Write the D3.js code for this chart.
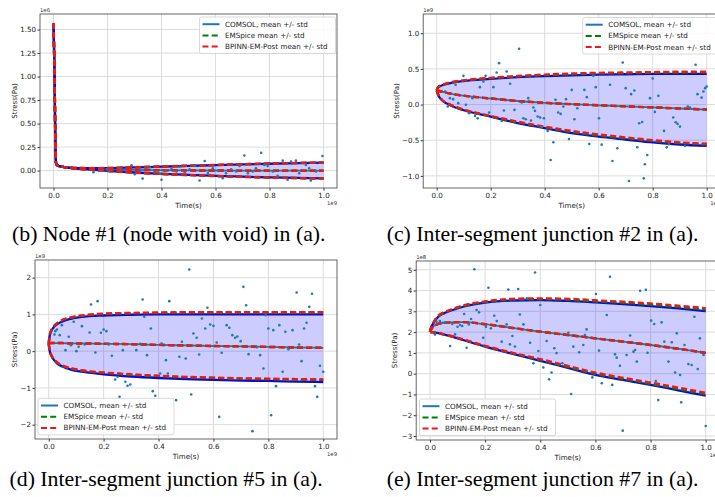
<!DOCTYPE html>
<html>
<head>
<meta charset="utf-8">
<script src="https://cdn.jsdelivr.net/npm/d3@7"></script>
<style>
body{margin:0;background:#fff}
svg{display:block}
.tick text{font-family:"DejaVu Sans";font-size:7.1px;fill:#222}
.textos{font-family:"DejaVu Sans";font-size:7.1px;fill:#222}
.leyenda{font-family:"DejaVu Sans";font-size:7.2px;fill:#222}
.exponente{font-family:"DejaVu Sans";font-size:5.3px;fill:#333}
.pie{font-family:"Liberation Serif";font-size:21.8px;fill:#000}
</style>
</head>
<body>
<script>
var anchoSvg = 715,
    altoSvg = 497;

// ---- datos (tiempo en 1e9 s, tension en 1e6 / 1e9 / 1e9 / 1e8 Pa) ----
var nombresSeries = ['COMSOL, mean +/- std', 'EMSpice mean +/- std', 'BPINN-EM-Post mean +/- std'];
var ticksX = [0, 0.2, 0.4, 0.6, 0.8, 1.0];

// (b) nodo #1
var tiempos_b = [0, 0.002, 0.004, 0.006, 0.008, 0.01, 0.015, 0.03, 0.06, 0.1, 0.15, 0.2, 0.3, 0.4, 0.5, 0.6, 0.7, 0.8, 0.9, 1.0];
var comsolMedia_b = [1.57, 1.30, 1.00, 0.50, 0.15, 0.07, 0.055, 0.042, 0.030, 0.022, 0.016, 0.012, 0.007, 0.004, 0.002, 0.001, 0.000, 0.000, -0.001, -0.001];
var comsolSup_b = [1.57, 1.30, 1.00, 0.50, 0.15, 0.07, 0.055, 0.042, 0.031, 0.026, 0.025, 0.026, 0.034, 0.042, 0.050, 0.058, 0.066, 0.073, 0.079, 0.084];
var comsolInf_b = [1.57, 1.30, 1.00, 0.50, 0.15, 0.07, 0.055, 0.042, 0.029, 0.018, 0.008, -0.002, -0.020, -0.034, -0.046, -0.056, -0.065, -0.072, -0.078, -0.083];
var emspiceMedia_b = [1.57, 1.30, 1.00, 0.50, 0.15, 0.07, 0.055, 0.042, 0.030, 0.022, 0.016, 0.012, 0.007, 0.004, 0.002, 0.001, 0.000, 0.000, -0.001, -0.001];
var emspiceSup_b = [1.57, 1.30, 1.00, 0.50, 0.15, 0.07, 0.055, 0.042, 0.031, 0.027, 0.026, 0.027, 0.035, 0.043, 0.051, 0.059, 0.067, 0.074, 0.080, 0.085];
var emspiceInf_b = [1.57, 1.30, 1.00, 0.50, 0.15, 0.07, 0.055, 0.042, 0.029, 0.017, 0.007, -0.003, -0.021, -0.035, -0.047, -0.057, -0.066, -0.073, -0.079, -0.084];
var bpinnMedia_b = [1.57, 1.30, 1.00, 0.50, 0.15, 0.07, 0.055, 0.042, 0.030, 0.022, 0.016, 0.012, 0.007, 0.004, 0.002, 0.001, 0.000, 0.000, -0.001, -0.001];
var bpinnSup_b = [1.57, 1.30, 1.00, 0.50, 0.15, 0.07, 0.055, 0.042, 0.031, 0.027, 0.026, 0.028, 0.036, 0.044, 0.052, 0.060, 0.068, 0.075, 0.081, 0.086];
var bpinnInf_b = [1.57, 1.30, 1.00, 0.50, 0.15, 0.07, 0.055, 0.042, 0.029, 0.017, 0.007, -0.004, -0.022, -0.036, -0.048, -0.058, -0.067, -0.074, -0.080, -0.085];
var puntos_b = [[0.148,-0.017],[0.178,0.0],[0.197,0.015],[0.209,-0.01],[0.246,0.02],[0.265,0.003],[0.289,0.057],[0.301,-0.039],
  [0.320,0.003],[0.330,-0.085],[0.344,0.025],[0.357,0.035],[0.375,-0.01],[0.396,-0.035],[0.400,-0.098],[0.418,0.003],
  [0.437,0.02],[0.455,-0.01],[0.467,0.042],[0.486,-0.021],[0.504,0.015],[0.523,0.05],[0.541,-0.105],[0.560,0.102],
  [0.572,-0.028],[0.590,0.025],[0.609,0.003],[0.627,-0.081],[0.639,-0.028],[0.658,0.015],[0.677,-0.01],[0.689,0.05],
  [0.707,0.16],[0.720,-0.028],[0.738,-0.01],[0.750,0.025],[0.769,0.19],[0.781,0.06],[0.793,0.05],[0.812,-0.01],
  [0.830,-0.056],[0.849,0.106],[0.867,-0.098],[0.880,0.095],[0.898,0.106],[0.910,-0.028],[0.935,0.06],[0.947,0.025],
  [0.953,-0.105],[0.972,-0.01],[0.996,0.155]];

// (c) union #2
var tiempos_c = [0, 0.005, 0.02, 0.05, 0.1, 0.2, 0.3, 0.4, 0.5, 0.6, 0.7, 0.8, 0.9, 1.0];
var comsolMedia_c = [0.20, 0.195, 0.18, 0.155, 0.125, 0.085, 0.05, 0.025, 0.005, -0.01, -0.025, -0.04, -0.055, -0.07];
var comsolSup_c = [0.20, 0.24, 0.27, 0.30, 0.33, 0.36, 0.385, 0.40, 0.41, 0.42, 0.425, 0.43, 0.43, 0.43];
var comsolInf_c = [0.20, 0.14, 0.06, -0.01, -0.08, -0.17, -0.26, -0.33, -0.40, -0.45, -0.49, -0.53, -0.56, -0.58];
var emspiceMedia_c = [0.20, 0.195, 0.18, 0.155, 0.125, 0.085, 0.05, 0.025, 0.005, -0.01, -0.025, -0.04, -0.055, -0.07];
var emspiceSup_c = [0.20, 0.243, 0.273, 0.305, 0.335, 0.37, 0.395, 0.413, 0.425, 0.435, 0.44, 0.447, 0.45, 0.452];
var emspiceInf_c = [0.20, 0.143, 0.063, -0.005, -0.075, -0.165, -0.25, -0.32, -0.385, -0.435, -0.475, -0.51, -0.54, -0.56];
var bpinnMedia_c = [0.20, 0.195, 0.18, 0.155, 0.125, 0.085, 0.05, 0.025, 0.005, -0.01, -0.025, -0.04, -0.055, -0.07];
var bpinnSup_c = [0.20, 0.245, 0.275, 0.31, 0.34, 0.375, 0.40, 0.42, 0.435, 0.445, 0.45, 0.455, 0.46, 0.46];
var bpinnInf_c = [0.20, 0.145, 0.065, 0.0, -0.07, -0.16, -0.24, -0.31, -0.37, -0.42, -0.46, -0.50, -0.53, -0.55];
var puntos_c = [[0.031,0.183],[0.041,-0.028],[0.049,0.09],[0.061,0.076],[0.070,0.277],[0.080,0.02],[0.099,0.403],[0.108,-0.004],
  [0.120,-0.121],[0.132,0.09],[0.142,-0.159],[0.152,-0.191],[0.160,0.244],[0.173,0.323],[0.181,0.403],[0.194,-0.112],
  [0.210,0.244],[0.222,0.45],[0.231,0.581],[0.241,-0.229],[0.249,-0.084],[0.259,0.464],[0.272,0.291],[0.288,-0.075],
  [0.305,0.782],[0.315,0.028],[0.321,-0.191],[0.330,-0.205],[0.339,0.09],[0.349,-0.225],[0.358,-0.042],[0.364,-0.088],
  [0.374,-0.168],[0.383,-0.182],[0.389,-0.313],[0.397,-0.191],[0.411,-0.369],[0.422,-0.777],[0.432,-0.528],[0.440,0.066],
  [0.450,-0.112],[0.459,-0.131],[0.469,-0.028],[0.479,0.076],[0.490,-0.482],[0.500,0.206],[0.510,-0.205],[0.521,-0.051],
  [0.547,0.206],[0.556,0.104],[0.565,-0.552],[0.580,0.403],[0.589,0.244],[0.601,-0.191],[0.611,-0.562],[0.642,0.277],
  [0.651,-0.792],[0.669,-0.613],[0.689,0.59],[0.700,0.23],[0.712,-1.072],[0.720,0.146],[0.732,0.197],[0.743,-0.598],
  [0.750,-0.262],[0.761,-0.244],[0.767,-1.035],[0.771,-0.838],[0.780,-0.707],[0.790,0.09],[0.800,0.365],[0.808,-0.103],
  [0.821,0.122],[0.842,-0.369],[0.852,-0.6],[0.860,-0.557],[0.876,-0.182],[0.885,-0.248],[0.892,-0.271],[0.901,-0.309],
  [0.920,-0.58],[0.930,-0.028],[0.938,-0.042],[0.959,0.558],[0.966,0.146],[0.981,0.098],[0.988,0.183],[0.994,0.23],[1.0,0.253]];

// (d) union #5
var tiempos_d = [0, 0.003, 0.008, 0.015, 0.03, 0.05, 0.08, 0.12, 0.2, 0.3, 0.4, 0.5, 0.6, 0.7, 0.8, 0.9, 1.0];
var comsolMedia_d = [0.20, 0.21, 0.22, 0.22, 0.22, 0.22, 0.21, 0.21, 0.20, 0.19, 0.17, 0.155, 0.14, 0.13, 0.115, 0.10, 0.09];
var comsolSup_d = [0.20, 0.40, 0.52, 0.62, 0.73, 0.81, 0.88, 0.93, 0.97, 0.99, 1.0, 1.0, 1.0, 1.0, 1.0, 1.0, 1.0];
var comsolInf_d = [0.20, 0.02, -0.10, -0.20, -0.33, -0.42, -0.50, -0.56, -0.63, -0.69, -0.73, -0.76, -0.78, -0.80, -0.81, -0.83, -0.84];
var emspiceMedia_d = [0.20, 0.21, 0.22, 0.22, 0.22, 0.22, 0.21, 0.21, 0.20, 0.19, 0.17, 0.155, 0.14, 0.13, 0.115, 0.10, 0.09];
var emspiceSup_d = [0.20, 0.41, 0.54, 0.64, 0.75, 0.84, 0.91, 0.96, 1.01, 1.03, 1.04, 1.05, 1.05, 1.05, 1.05, 1.05, 1.05];
var emspiceInf_d = [0.20, 0.025, -0.09, -0.19, -0.31, -0.40, -0.47, -0.53, -0.59, -0.64, -0.68, -0.71, -0.73, -0.75, -0.76, -0.77, -0.78];
var bpinnMedia_d = [0.20, 0.21, 0.22, 0.22, 0.22, 0.22, 0.21, 0.21, 0.20, 0.19, 0.17, 0.155, 0.14, 0.13, 0.115, 0.10, 0.09];
var bpinnSup_d = [0.20, 0.42, 0.55, 0.65, 0.76, 0.85, 0.92, 0.97, 1.02, 1.04, 1.05, 1.06, 1.06, 1.06, 1.06, 1.06, 1.06];
var bpinnInf_d = [0.20, 0.03, -0.08, -0.18, -0.30, -0.39, -0.46, -0.52, -0.58, -0.63, -0.67, -0.70, -0.72, -0.74, -0.75, -0.76, -0.77];
var puntos_d = [[0.021,0.454],[0.024,0.544],[0.030,0.590],[0.040,0.435],[0.048,0.707],[0.061,0.027],[0.073,0.39],[0.081,0.163],
  [0.091,0.798],[0.101,0.0],[0.109,0.118],[0.121,0.68],[0.131,0.181],[0.149,0.508],[0.154,1.27],[0.170,-0.036],
  [0.178,1.36],[0.190,0.499],[0.200,0.59],[0.210,0.544],[0.218,0.181],[0.230,-0.127],[0.242,-0.771],[0.251,-0.698],
  [0.258,-1.243],[0.270,0.027],[0.279,-0.834],[0.287,-0.943],[0.297,-0.907],[0.319,0.027],[0.333,0.2],[0.342,1.406],
  [0.348,0.934],[0.358,-0.109],[0.372,0.617],[0.379,-1.088],[0.388,-1.215],[0.406,-0.608],[0.411,0.209],[0.427,-0.245],
  [0.434,-0.608],[0.439,1.36],[0.464,-1.333],[0.476,-0.154],[0.485,0.254],[0.499,-0.2],[0.512,2.22],[0.519,-1.179],
  [0.527,0.481],[0.539,0.363],[0.548,-0.091],[0.558,0.889],[0.570,0.617],[0.578,1.18],[0.588,0.726],[0.600,0.689],
  [0.612,0.236],[0.621,-1.787],[0.630,-0.045],[0.648,0.707],[0.658,0.635],[0.669,0.435],[0.679,0.363],[0.687,0.399],
  [0.699,0.272],[0.709,1.75],[0.719,1.25],[0.728,-0.082],[0.742,-2.177],[0.758,0.109],[0.770,-0.109],[0.782,-0.472],
  [0.790,0.98],[0.800,0.617],[0.810,-1.742],[0.818,0.571],[0.828,-0.952],[0.840,0.707],[0.852,-0.562],[0.862,0.526],
  [0.873,0.054],[0.888,0.571],[0.903,1.596],[0.912,0.181],[0.921,-0.272],[0.930,0.617],[0.939,0.771],[0.949,1.206],
  [0.959,1.56],[0.970,-0.952],[0.978,-1.243],[0.988,-0.399],[1.0,-0.562]];

// (e) union #7
var tiempos_e = [0, 0.005, 0.012, 0.03, 0.05, 0.08, 0.12, 0.2, 0.3, 0.4, 0.5, 0.6, 0.7, 0.8, 0.9, 1.0];
var comsolMedia_e = [2.0, 2.15, 2.27, 2.39, 2.44, 2.47, 2.48, 2.38, 2.20, 2.02, 1.86, 1.70, 1.54, 1.38, 1.20, 1.00];
var comsolSup_e = [2.0, 2.25, 2.42, 2.74, 2.90, 3.05, 3.22, 3.42, 3.52, 3.54, 3.50, 3.43, 3.35, 3.25, 3.14, 3.01];
var comsolInf_e = [2.0, 2.0, 1.99, 1.95, 1.88, 1.78, 1.62, 1.30, 0.95, 0.62, 0.28, -0.06, -0.30, -0.54, -0.80, -1.06];
var emspiceMedia_e = [2.0, 2.15, 2.27, 2.39, 2.44, 2.47, 2.48, 2.38, 2.20, 2.02, 1.86, 1.70, 1.54, 1.38, 1.20, 1.00];
var emspiceSup_e = [2.0, 2.26, 2.44, 2.76, 2.93, 3.08, 3.25, 3.45, 3.56, 3.58, 3.55, 3.48, 3.41, 3.32, 3.21, 3.09];
var emspiceInf_e = [2.0, 2.0, 1.99, 1.955, 1.89, 1.79, 1.635, 1.32, 0.975, 0.66, 0.32, -0.01, -0.25, -0.49, -0.74, -0.99];
var bpinnMedia_e = [2.0, 2.15, 2.27, 2.39, 2.44, 2.47, 2.48, 2.38, 2.20, 2.02, 1.86, 1.70, 1.54, 1.38, 1.20, 1.00];
var bpinnSup_e = [2.0, 2.27, 2.45, 2.78, 2.95, 3.10, 3.28, 3.48, 3.60, 3.62, 3.60, 3.53, 3.46, 3.38, 3.27, 3.15];
var bpinnInf_e = [2.0, 2.0, 1.99, 1.96, 1.90, 1.80, 1.65, 1.34, 1.00, 0.70, 0.37, 0.05, -0.20, -0.43, -0.67, -0.92];
var puntos_e = [[0.018,1.89],[0.024,2.5],[0.036,2.53],[0.045,2.45],[0.054,2.47],[0.073,1.33],[0.081,2.39],[0.091,1.89],
  [0.100,2.26],[0.109,2.34],[0.117,2.29],[0.124,2.87],[0.133,1.25],[0.141,2.37],[0.149,2.63],[0.161,5.02],
  [0.169,3.06],[0.178,2.95],[0.193,1.73],[0.203,2.26],[0.212,4.13],[0.221,2.18],[0.233,2.79],[0.242,2.53],
  [0.260,1.54],[0.278,2.37],[0.284,4.05],[0.290,1.41],[0.299,1.81],[0.308,1.31],[0.320,4.07],[0.326,2.85],
  [0.339,2.37],[0.351,3.62],[0.363,1.49],[0.375,0.5],[0.381,4.87],[0.393,1.09],[0.400,3.3],[0.411,0.3],
  [0.423,1.57],[0.432,-0.27],[0.441,0.06],[0.451,1.22],[0.459,0.99],[0.480,0.5],[0.502,1.97],[0.512,-0.98],
  [0.520,1.3],[0.541,1.03],[0.556,1.38],[0.562,1.86],[0.568,2.13],[0.589,-0.18],[0.602,3.83],[0.613,1.11],
  [0.623,-0.46],[0.641,2.82],[0.653,4.66],[0.661,-0.54],[0.671,0.93],[0.677,0.77],[0.689,0.38],[0.699,-2.74],
  [0.713,0.9],[0.726,1.84],[0.738,1.06],[0.744,1.14],[0.750,0.58],[0.762,3.99],[0.783,4.04],[0.789,1.01],
  [0.802,2.55],[0.813,2.39],[0.819,-0.35],[0.828,-1.27],[0.840,2.47],[0.850,1.54],[0.865,0.58],[0.877,1.51],
  [0.889,0.06],[0.895,1.94],[0.907,-0.06],[0.911,-1.38],[0.923,1.38],[0.937,0.46],[0.949,0.42],[0.959,2.74],
  [0.971,0.22],[0.979,1.7],[0.992,0.9],[1.0,-2.52]];

// ---- paneles: posicion y estilo ----
var paneles = [
  {id:'b', izq:40, dcho:337, sup:14, inf:188, dominioY:[-0.185,1.665], ticksY:[0,0.25,0.5,0.75,1.0,1.25,1.5], formatoY:'.2f',
   tiempos:tiempos_b, series:[[comsolMedia_b,comsolSup_b,comsolInf_b],[emspiceMedia_b,emspiceSup_b,emspiceInf_b],[bpinnMedia_b,bpinnSup_b,bpinnInf_b]],
   puntos:puntos_b, exp:'1e6', leyenda:{x:199.5, y:17}, ejeYx:14.5,
   pie:'(b) Node #1 (node with void) in (a).', pieX:12, pieY:241},
  {id:'c', izq:423.2, dcho:720.2, sup:14, inf:188, dominioY:[-1.17,1.27], ticksY:[-1.0,-0.5,0,0.5,1.0], formatoY:'.1f',
   tiempos:tiempos_c, series:[[comsolMedia_c,comsolSup_c,comsolInf_c],[emspiceMedia_c,emspiceSup_c,emspiceInf_c],[bpinnMedia_c,bpinnSup_c,bpinnInf_c]],
   puntos:puntos_c, exp:'1e9', leyenda:{x:582.7, y:17.5}, ejeYx:397,
   pie:'(c) Inter-segment junction #2 in (a).', pieX:386.7, pieY:241},
  {id:'d', izq:35, dcho:337, sup:260, inf:439, dominioY:[-2.39,2.48], ticksY:[-2,-1,0,1,2], formatoY:'d',
   tiempos:tiempos_d, series:[[comsolMedia_d,comsolSup_d,comsolInf_d],[emspiceMedia_d,emspiceSup_d,emspiceInf_d],[bpinnMedia_d,bpinnSup_d,bpinnInf_d]],
   puntos:puntos_d, exp:'1e9', leyenda:{x:38, y:398.3}, ejeYx:14.5,
   pie:'(d) Inter-segment junction #5 in (a).', pieX:9.5, pieY:486},
  {id:'e', izq:416.2, dcho:719.5, sup:261, inf:440, dominioY:[-3.19,5.42], ticksY:[-3,-2,-1,0,1,2,3,4,5], formatoY:'d',
   tiempos:tiempos_e, series:[[comsolMedia_e,comsolSup_e,comsolInf_e],[emspiceMedia_e,emspiceSup_e,emspiceInf_e],[bpinnMedia_e,bpinnSup_e,bpinnInf_e]],
   puntos:puntos_e, exp:'1e8', leyenda:{x:419.5, y:399}, ejeYx:395,
   pie:'(e) Inter-segment junction #7 in (a).', pieX:386.7, pieY:486}
];

var estilos = [
  {media:{color:'#1f77b4', ancho:1.8, trazo:null}, borde:{color:'#0b0bd8', ancho:2.3, trazo:null}},
  {media:{color:'#008000', ancho:2.4, trazo:'6,3.2'}, borde:{color:'#008000', ancho:2.4, trazo:'6,3.2'}},
  {media:{color:'#f01616', ancho:2.4, trazo:'6,3.2'}, borde:{color:'#f01616', ancho:2.4, trazo:'6,3.2'}}
];
var estiloLeyenda = [{color:'#1f77b4', trazo:null}, {color:'#008000', trazo:'6,3.2'}, {color:'#f01616', trazo:'6,3.2'}];

var elementoSvg = d3.select('body')
    .append('svg')
    .attr('width', anchoSvg)
    .attr('height', altoSvg)

function dibujaPanel(p) {
    var g = elementoSvg.append('g').attr('class', 'panel-' + p.id)

    var escalaX = d3.scaleLinear().domain([-0.05, 1.05]).range([p.izq, p.dcho])
    var escalaY = d3.scaleLinear().domain(p.dominioY).range([p.inf, p.sup])

    // rejilla
    g.append('g').selectAll('line').data(ticksX).enter().append('line')
        .attr('x1', d => escalaX(d)).attr('x2', d => escalaX(d))
        .attr('y1', p.sup).attr('y2', p.inf)
        .attr('stroke', '#dcdcdc').attr('stroke-width', 1)
    g.append('g').selectAll('line').data(p.ticksY).enter().append('line')
        .attr('x1', p.izq).attr('x2', p.dcho)
        .attr('y1', d => escalaY(d)).attr('y2', d => escalaY(d))
        .attr('stroke', '#dcdcdc').attr('stroke-width', 1)

    var idClip = 'recorte-' + p.id
    elementoSvg.append('clipPath').attr('id', idClip)
        .append('rect').attr('x', p.izq).attr('y', p.sup)
        .attr('width', p.dcho - p.izq).attr('height', p.inf - p.sup)
    var cuerpo = g.append('g').attr('clip-path', 'url(#' + idClip + ')')

    // banda COMSOL
    var banda = d3.area()
        .x((d, i) => escalaX(p.tiempos[i]))
        .y0((d, i) => escalaY(p.series[0][2][i]))
        .y1((d, i) => escalaY(p.series[0][1][i]))
        .curve(d3.curveMonotoneX)
    cuerpo.append('path')
        .attr('d', banda(p.tiempos))
        .attr('fill', 'rgba(0,0,255,0.2)')

    var linea = d3.line()
        .x(d => escalaX(d[0]))
        .y(d => escalaY(d[1]))
        .curve(d3.curveMonotoneX)

    p.series.forEach((s, k) => {
        s.forEach((valores, j) => {
            var est = j == 0 ? estilos[k].media : estilos[k].borde
            cuerpo.append('path')
                .attr('d', linea(p.tiempos.map((t, i) => [t, valores[i]])))
                .attr('fill', 'none')
                .attr('stroke', est.color)
                .attr('stroke-width', est.ancho)
                .attr('stroke-dasharray', est.trazo)
        })
    })

    // puntos
    cuerpo.append('g').selectAll('circle').data(p.puntos).enter().append('circle')
        .attr('cx', d => escalaX(d[0]))
        .attr('cy', d => escalaY(d[1]))
        .attr('r', 1.3)
        .attr('fill', '#1f77b4')

    // ejes
    var ejeX = d3.axisBottom(escalaX).tickValues(ticksX).tickFormat(d3.format('.1f')).tickSize(2.5).tickPadding(2)
    g.append('g').attr('transform', 'translate(0,' + p.inf + ')').call(ejeX)
        .call(e => e.select('.domain').remove())
    var ejeY = d3.axisLeft(escalaY).tickValues(p.ticksY).tickFormat(d3.format(p.formatoY)).tickSize(2.5).tickPadding(1.5)
    g.append('g').attr('transform', 'translate(' + p.izq + ',0)').call(ejeY)
        .call(e => e.select('.domain').remove())
    g.selectAll('.tick line').attr('stroke', '#333')

    g.append('rect')
        .attr('x', p.izq).attr('y', p.sup)
        .attr('width', p.dcho - p.izq).attr('height', p.inf - p.sup)
        .attr('fill', 'none').attr('stroke', '#555').attr('stroke-width', 0.9)

    // etiquetas
    g.append('text').attr('class', 'exponente').text(p.exp)
        .attr('x', p.izq).attr('y', p.sup - 2.5)
    g.append('text').attr('class', 'exponente').text('1e9')
        .attr('x', p.dcho).attr('y', p.inf + 17).attr('text-anchor', 'end')
    g.append('text').attr('class', 'textos').text('Time(s)')
        .attr('x', (p.izq + p.dcho) / 2).attr('y', p.inf + 19.5).attr('text-anchor', 'middle')
    g.append('text').attr('class', 'textos').text('Stress(Pa)')
        .attr('text-anchor', 'middle')
        .attr('transform', 'translate(' + (p.ejeYx + 2.4) + ',' + ((p.sup + p.inf) / 2) + ') rotate(-90)')

    // leyenda
    var ley = g.append('g').attr('transform', 'translate(' + p.leyenda.x + ',' + p.leyenda.y + ')')
    ley.append('rect').attr('width', 136).attr('height', 36.5).attr('rx', 2)
        .attr('fill', 'white').attr('fill-opacity', 0.85)
        .attr('stroke', '#cfcfcf').attr('stroke-width', 0.8)
    ley.selectAll('.entrada').data(nombresSeries).enter().append('g')
        .attr('class', 'entrada')
        .attr('transform', (d, i) => 'translate(0,' + (7.2 + i * 11.2) + ')')
        .each(function (d, i) {
            d3.select(this).append('line')
                .attr('x1', 3).attr('x2', 20).attr('y1', 0).attr('y2', 0)
                .attr('stroke', estiloLeyenda[i].color).attr('stroke-width', 2)
                .attr('stroke-dasharray', estiloLeyenda[i].trazo)
            d3.select(this).append('text').attr('class', 'leyenda')
                .attr('x', 25.5).attr('y', 2.5).text(d)
        })

    // pie de figura
    elementoSvg.append('text').attr('class', 'pie')
        .attr('x', p.pieX).attr('y', p.pieY).text(p.pie)
}

paneles.forEach(dibujaPanel)
</script>
</body>
</html>
